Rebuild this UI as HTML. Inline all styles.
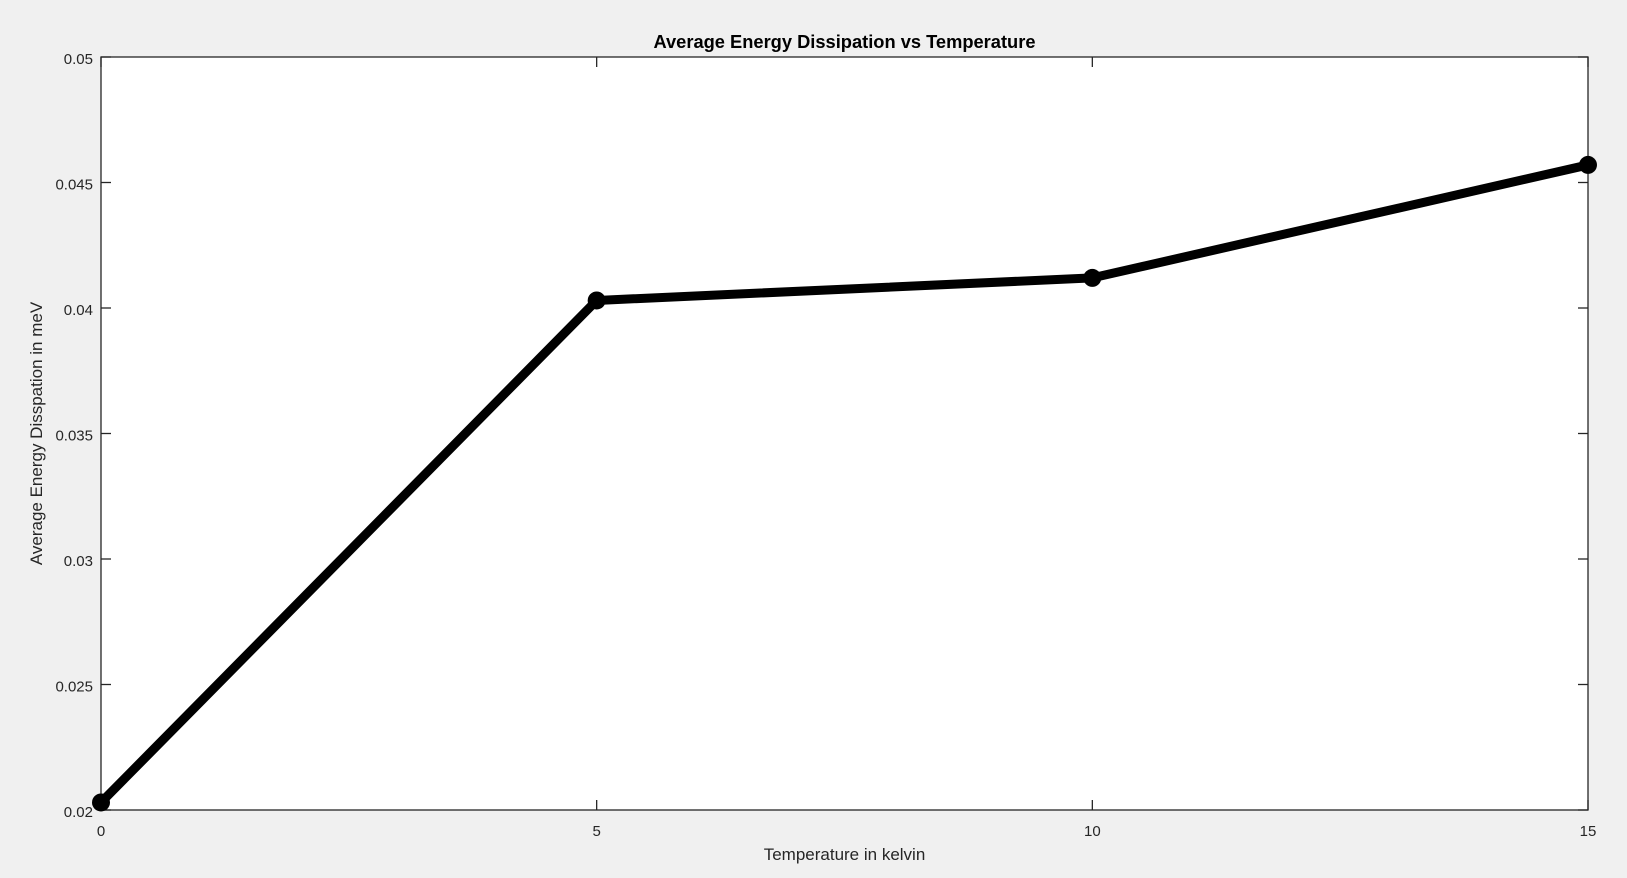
<!DOCTYPE html>
<html><head><meta charset="utf-8"><style>
html,body{margin:0;padding:0;background:#f0f0f0;}
svg{display:block;font-family:"Liberation Sans",Arial,sans-serif;}
</style></head><body>
<svg id="chart" width="1627" height="878" viewBox="0 0 1627 878">
<rect width="1627" height="878" fill="#f0f0f0"/>
<rect x="101" y="57" width="1487" height="753" fill="#ffffff" stroke="#262626" stroke-width="1.3"/>
<text x="844.5" y="48" text-anchor="middle" font-size="18.3" font-weight="bold" fill="#000">Average Energy Dissipation vs Temperature</text>
<text x="844.5" y="860" text-anchor="middle" font-size="17" fill="#262626">Temperature in kelvin</text>
<text transform="translate(42,433.5) rotate(-90)" text-anchor="middle" font-size="17" fill="#262626">Average Energy Disspation in meV</text>
<g id="ticks"></g>
<g id="series"></g>
</svg>
<script>
const xTicks=[0,5,10,15];
const yTicks=[0.02,0.025,0.03,0.035,0.04,0.045,0.05];
const yTickLabels=["0.02","0.025","0.03","0.035","0.04","0.045","0.05"];
const temps=[0,5,10,15];
const dissipation=[0.0203,0.0403,0.0412,0.0457];
const L=101,R=1588,T=57,B=810;
const xs=v=>L+(v-0)/(15-0)*(R-L);
const ys=v=>B-(v-0.02)/(0.05-0.02)*(B-T);
const NS="http://www.w3.org/2000/svg";
const tg=document.getElementById('ticks');
function mk(tag,attrs){const e=document.createElementNS(NS,tag);for(const k in attrs)e.setAttribute(k,attrs[k]);return e;}
xTicks.forEach(v=>{
  const x=xs(v);
  [[B,B-10],[T,T+10]].forEach(p=>{const l=mk('line',{x1:x,x2:x,y1:p[0],y2:p[1],stroke:'#262626','stroke-width':1.3});
  
  
  tg.appendChild(l);});
  const t=mk('text',{x:x,y:B+26,'text-anchor':'middle','font-size':15,fill:'#262626'});
  
  
  t.textContent=String(v);tg.appendChild(t);
});
yTicks.forEach((v,i)=>{
  const y=ys(v);
  [[L,L+10],[R,R-10]].forEach(p=>{const l=mk('line',{x1:p[0],x2:p[1],y1:y,y2:y,stroke:'#262626','stroke-width':1.3});
  
  
  tg.appendChild(l);});
  const t=mk('text',{x:L-8,y:y+7,'text-anchor':'end','font-size':15,fill:'#262626'});
  
  
  t.textContent=yTickLabels[i];tg.appendChild(t);
});
const sg=document.getElementById('series');
const pl=mk('polyline',{points:temps.map((t,i)=>xs(t)+','+ys(dissipation[i])).join(' '),fill:'none',stroke:'#000','stroke-width':9,'stroke-linejoin':'round'});


sg.appendChild(pl);
temps.forEach((t,i)=>{
  const c=mk('circle',{cx:xs(t),cy:ys(dissipation[i]),r:9,fill:'#000'});
  
  
  sg.appendChild(c);
});
</script>
</body></html>
